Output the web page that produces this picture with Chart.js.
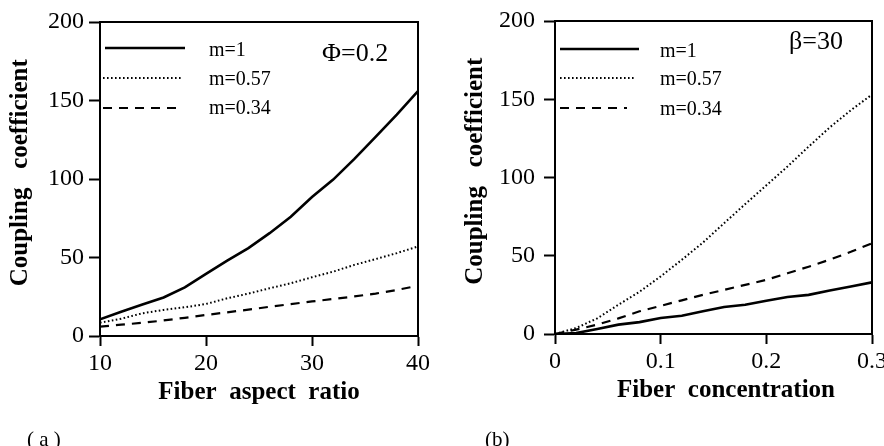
<!DOCTYPE html>
<html>
<head>
<meta charset="utf-8">
<script src="https://cdn.jsdelivr.net/npm/chart.js@4.4.1/dist/chart.umd.min.js"></script>
<style>
  html, body { margin: 0; padding: 0; background: #fff; overflow: hidden; }
  body { width: 884px; height: 446px; position: relative; }
  #wrap-a { position: absolute; left: 0; top: 0; width: 442px; height: 446px; }
  #wrap-b { position: absolute; left: 442px; top: 0; width: 460px; height: 446px; }
</style>
</head>
<body>
<div id="wrap-a"><canvas id="chart-a" width="442" height="446"></canvas></div>
<div id="wrap-b"><canvas id="chart-b" width="460" height="446"></canvas></div>
<script>
// panel (a): coupling coefficient vs fiber aspect ratio, phi = 0.2
const aspectRatio = [10, 12, 14, 16, 18, 20, 22, 24, 26, 28, 30, 32, 34, 36, 38, 40];
const aM1   = [10.6, 15.5, 20, 24.5, 31, 39.6, 48, 56, 65.5, 76, 88.5, 99.6, 112.8, 126.8, 141, 156];
const aM057 = [8.5, 11, 14.5, 16.6, 18.3, 20.4, 24, 27, 30.4, 33.6, 37.4, 41, 45.3, 49, 52.8, 57];
const aM034 = [6, 7.2, 8.4, 9.9, 11.6, 13.4, 15.1, 16.8, 18.6, 20.3, 22, 23.6, 25.2, 27, 29.3, 32];

// panel (b): coupling coefficient vs fiber concentration, beta = 30
const concentration = [0, 0.02, 0.04, 0.06, 0.08, 0.1, 0.12, 0.14, 0.16, 0.18, 0.2, 0.22, 0.24, 0.26, 0.28, 0.3];
const bM1   = [0, 0.6, 3.2, 6, 7.6, 10.2, 11.7, 14.5, 17.2, 18.7, 21.3, 23.6, 25, 27.8, 30.4, 33];
const bM057 = [0, 3.8, 10, 18.7, 27, 36.8, 47.4, 58.4, 70.8, 83, 95, 107, 119.7, 132, 143, 153];
const bM034 = [0, 2.8, 6, 10, 14.5, 18, 21.5, 25, 28.2, 31.4, 34.6, 38.8, 43, 47.5, 52.5, 58];

const seriesNames = ['m=1', 'm=0.57', 'm=0.34'];
const xTicksA = [10, 20, 30, 40];
const xTicksB = [0, 0.1, 0.2, 0.3];
const yTicks = [0, 50, 100, 150, 200];

const serif = "'Liberation Serif', 'Times New Roman', serif";

function toPoints(xs, ys) {
    return xs.map((x, i) => ({ x: x, y: ys[i] }));
}

function makeDatasets(xs, s1, s2, s3) {
    return [
        { label: seriesNames[0], data: toPoints(xs, s1), borderColor: '#000', borderWidth: 2.6, borderDash: [] },
        { label: seriesNames[1], data: toPoints(xs, s2), borderColor: '#000', borderWidth: 2, borderDash: [1.6, 2.4] },
        { label: seriesNames[2], data: toPoints(xs, s3), borderColor: '#000', borderWidth: 2.2, borderDash: [9, 7] }
    ];
}

// frame, in-plot legend, annotation and panel letter
function panelDecor(cfg) {
    return {
        id: 'decor',
        afterDraw(chart) {
            const ctx = chart.ctx;
            const a = chart.chartArea;
            ctx.save();
            ctx.strokeStyle = '#000';
            ctx.lineWidth = 2;
            ctx.strokeRect(a.left, a.top, a.right - a.left, a.bottom - a.top);

            chart.data.datasets.forEach((ds, i) => {
                const it = cfg.legend[i];
                ctx.beginPath();
                ctx.lineWidth = ds.borderWidth;
                ctx.setLineDash(ds.borderDash);
                ctx.moveTo(it.x0, it.y);
                ctx.lineTo(it.x1, it.y);
                ctx.stroke();
                ctx.setLineDash([]);
                ctx.fillStyle = '#000';
                ctx.font = '20px ' + serif;
                ctx.textAlign = 'left';
                ctx.textBaseline = 'middle';
                ctx.fillText(ds.label, cfg.textX, it.ty);
            });

            ctx.font = '26px ' + serif;
            ctx.textBaseline = 'middle';
            ctx.fillText(cfg.note, cfg.noteX, cfg.noteY);

            ctx.font = '21px ' + serif;
            ctx.fillText(cfg.letter, cfg.letterX, 440);
            ctx.restore();
        }
    };
}

function makeOptions(p) {
    return {
        responsive: false,
        animation: false,
        layout: { padding: p.padding },
        elements: { point: { radius: 0 }, line: { tension: 0 } },
        plugins: { legend: { display: false }, tooltip: { enabled: false } },
        scales: {
            x: {
                type: 'linear',
                min: p.xMin,
                max: p.xMax,
                afterBuildTicks: s => { s.ticks = p.xTicks.map(v => ({ value: v })); },
                afterFit: s => { s.height = p.xHeight; },
                ticks: {
                    color: '#000',
                    padding: 6,
                    maxRotation: 0,
                    font: { family: serif, size: 24, lineHeight: 1 },
                    callback: v => String(v)
                },
                grid: { drawOnChartArea: false, drawTicks: true, tickLength: 10, tickWidth: 2, color: '#000' },
                border: { display: true, color: '#000', width: 2 },
                title: {
                    display: true,
                    text: p.xTitle,
                    color: '#000',
                    padding: { top: 0, bottom: p.xTitlePad },
                    font: { family: serif, size: 25, weight: 'bold', lineHeight: 1 }
                }
            },
            y: {
                min: 0,
                max: 200,
                afterBuildTicks: s => { s.ticks = yTicks.map(v => ({ value: v })); },
                afterFit: s => { s.width = p.yWidth; },
                ticks: {
                    color: '#000',
                    padding: p.yTickPad,
                    font: { family: serif, size: 24, lineHeight: 1 },
                    callback: v => String(v)
                },
                grid: { drawOnChartArea: false, drawTicks: true, tickLength: 11, tickWidth: 2, color: '#000' },
                border: { display: true, color: '#000', width: 2 },
                title: {
                    display: true,
                    text: '  Coupling   coefficient',
                    color: '#000',
                    padding: { top: p.yTitlePad, bottom: 0 },
                    font: { family: serif, size: 25, weight: 'bold', lineHeight: 1 }
                }
            }
        }
    };
}

new Chart(document.getElementById('chart-a'), {
    type: 'line',
    data: { datasets: makeDatasets(aspectRatio, aM1, aM057, aM034) },
    options: makeOptions({
        padding: { left: 0, top: 22, right: 24, bottom: 40 },
        xMin: 10, xMax: 40, xTicks: xTicksA, xHeight: 70, xTitlePad: 0.5,
        xTitle: 'Fiber  aspect  ratio',
        yWidth: 100, yTickPad: 5, yTitlePad: 8.5
    }),
    plugins: [panelDecor({
        legend: [
            { x0: 105, x1: 185, y: 48, ty: 51 },
            { x0: 103, x1: 182, y: 78, ty: 80 },
            { x0: 103, x1: 176, y: 108, ty: 109 }
        ],
        textX: 209,
        note: '\u03A6=0.2', noteX: 322, noteY: 54,
        letter: '( a )', letterX: 27
    })]
});

new Chart(document.getElementById('chart-b'), {
    type: 'line',
    data: { datasets: makeDatasets(concentration, bM1, bM057, bM034) },
    options: makeOptions({
        padding: { left: 0, top: 21, right: 30, bottom: 40 },
        xMin: 0, xMax: 0.3, xTicks: xTicksB, xHeight: 72, xTitlePad: 2.5,
        xTitle: '    Fiber  concentration',
        yWidth: 113, yTickPad: 9, yTitlePad: 21
    }),
    plugins: [panelDecor({
        legend: [
            { x0: 118, x1: 197, y: 49, ty: 52 },
            { x0: 118, x1: 194, y: 78, ty: 80 },
            { x0: 118, x1: 185, y: 108, ty: 110 }
        ],
        textX: 218,
        note: '\u03B2=30', noteX: 347, noteY: 42,
        letter: '(b)', letterX: 43
    })]
});
</script>
</body>
</html>
